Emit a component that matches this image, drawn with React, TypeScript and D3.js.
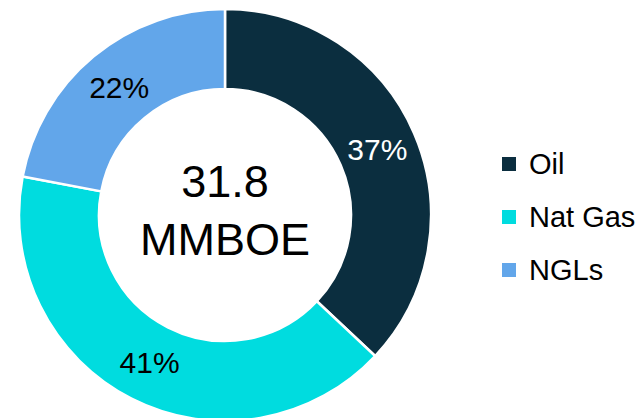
import React from "react";
import * as d3 from "d3";

const categories = ["Oil", "Nat Gas", "NGLs"];
const shares = [37, 41, 22];
const colors = ["#0B2E3F", "#00DCDF", "#62A6EA"];
const labelColors = ["#ffffff", "#000000", "#000000"];
const totalValue = "31.8";
const totalUnit = "MMBOE";

const width = 643;
const height = 418;
const cx = 225;
const cy = 215;
const outerR = 206;
const innerR = 126;
const font = "'Liberation Sans', Arial, sans-serif";

const App = () => {
  const pie = d3.pie<number>().sort(null)(shares);
  const arc = d3.arc<d3.PieArcDatum<number>>().innerRadius(innerR).outerRadius(outerR);

  const legendY = d3
    .scalePoint<string>()
    .domain(categories)
    .range([164, 270]);

  return (
    <svg
      width={width}
      height={height}
      viewBox={`0 0 ${width} ${height}`}
      style={{ position: "absolute", left: 0, top: 0, background: "#fff" }}
    >
      <g transform={`translate(${cx},${cy})`}>
        {pie.map((d, i) => (
          <path key={i} d={arc(d) || ""} fill={colors[i]} stroke="#fff" strokeWidth={2.5} />
        ))}
        {pie.map((d, i) => {
          const [x, y] = arc.centroid(d);
          return (
            <text
              key={"l" + i}
              x={x}
              y={y}
              textAnchor="middle"
              dominantBaseline="central"
              fontFamily={font}
              fontSize={30}
              fill={labelColors[i]}
            >
              {shares[i]}%
            </text>
          );
        })}
        {/* total in the hole */}
        <text textAnchor="middle" y={-18} fontFamily={font} fontSize={45} fill="#000">
          {totalValue}
        </text>
        <text textAnchor="middle" y={40} fontFamily={font} fontSize={45} fill="#000">
          {totalUnit}
        </text>
      </g>
      {/* legend */}
      <g>
        {categories.map((c, i) => (
          <g key={c} transform={`translate(502,${legendY(c)})`}>
            <rect x={0} y={-7} width={14} height={14} fill={colors[i]} />
            <text
              x={27}
              y={0}
              dominantBaseline="central"
              fontFamily={font}
              fontSize={29}
              fill="#000"
            >
              {c}
            </text>
          </g>
        ))}
      </g>
    </svg>
  );
};

export default App;
